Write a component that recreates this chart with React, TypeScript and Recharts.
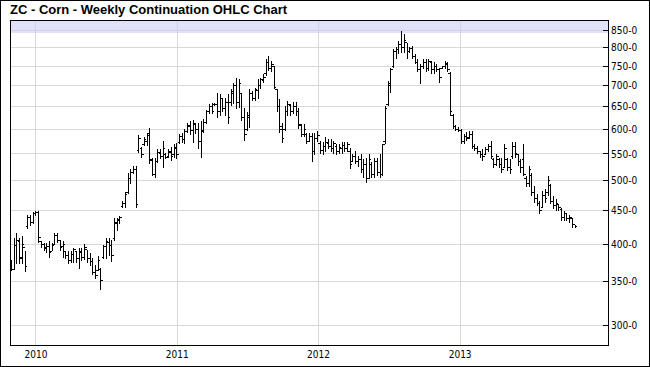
import { ComposedChart, Scatter, ErrorBar, XAxis, YAxis, CartesianGrid, ReferenceArea } from "recharts";

// first weekly bar, one bar per week after it
const firstWeek = "2009-10-30";
const yearTicks = ["2010-01-01", "2011-01-01", "2012-01-01", "2013-01-01"];
const priceTicks = [300, 350, 400, 450, 500, 550, 600, 650, 700, 750, 800, 850];
const axisStart = "2009-10-26";
const axisEnd = "2014-01-18";
const bandFloor = 844;

const opens = [
  372, 366, 398, 404, 382, 395, 425, 440, 432, 445,
  448, 404, 400, 394, 396, 390, 399, 412, 405, 396,
  390, 384, 378, 386, 390, 380, 388, 382, 392, 380,
  376, 362, 364, 366, 382, 396, 402, 398, 408, 430,
  434, 456, 462, 480, 505, 515, 520, 556, 560, 568,
  575, 592, 538, 512, 535, 550, 545, 548, 545, 552,
  548, 560, 572, 585, 578, 595, 606, 598, 610, 600,
  575, 598, 615, 638, 650, 654, 655, 640, 668, 645,
  660, 660, 680, 700, 660, 680, 625, 600, 625, 680,
  670, 688, 700, 712, 730, 760, 745, 750, 690, 650,
  605, 600, 640, 652, 640, 650, 640, 608, 590, 590,
  575, 585, 555, 580, 570, 556, 565, 570, 565, 560,
  565, 555, 560, 566, 560, 555, 535, 545, 535, 540,
  520, 530, 505, 530, 512, 535, 515, 512, 575, 655,
  700, 748, 790, 795, 810, 800, 815, 790, 798, 775,
  760, 740, 748, 760, 745, 760, 740, 750, 740, 745,
  748, 755, 730, 630, 605, 600, 598, 575, 585, 582,
  590, 565, 560, 555, 548, 548, 558, 565, 540, 530,
  540, 530, 525, 540, 525, 545, 565, 548, 535, 540,
  505, 495, 510, 480, 470, 462, 455, 475, 480, 492,
  465, 458, 460, 452, 440, 445, 438, 438, 428,
];

const highs = [
  378, 409, 416, 409, 412, 391, 443, 443, 448, 450,
  450, 405, 402, 401, 404, 401, 416, 416, 406, 405,
  391, 390, 390, 395, 391, 395, 394, 400, 392, 388,
  381, 371, 384, 368, 398, 409, 409, 406, 439, 439,
  442, 466, 480, 514, 521, 527, 527, 588, 564, 584,
  592, 602, 543, 543, 560, 560, 576, 552, 560, 564,
  570, 572, 591, 593, 601, 614, 618, 620, 614, 614,
  618, 623, 643, 657, 659, 659, 682, 680, 671, 671,
  680, 692, 706, 720, 716, 683, 648, 637, 692, 687,
  695, 716, 720, 729, 769, 778, 764, 751, 691, 668,
  614, 652, 664, 656, 660, 660, 648, 611, 611, 592,
  592, 592, 592, 597, 576, 573, 583, 580, 579, 576,
  570, 570, 573, 574, 573, 561, 550, 556, 546, 550,
  540, 543, 550, 534, 543, 543, 550, 570, 652, 712,
  746, 797, 802, 820, 850, 840, 815, 802, 806, 783,
  769, 755, 769, 769, 769, 764, 760, 755, 746, 751,
  764, 760, 734, 633, 609, 604, 601, 590, 594, 596,
  597, 570, 566, 556, 560, 563, 570, 576, 543, 550,
  543, 543, 570, 543, 540, 573, 573, 550, 540, 570,
  509, 527, 514, 491, 477, 466, 483, 486, 509, 494,
  474, 469, 461, 455, 450, 447, 444, 439, 428,
];

const lows = [
  364, 365, 373, 373, 373, 363, 422, 427, 429, 442,
  402, 395, 391, 388, 381, 390, 398, 401, 391, 381,
  380, 373, 374, 374, 374, 366, 377, 378, 374, 370,
  359, 354, 364, 340, 380, 380, 384, 375, 405, 419,
  429, 455, 455, 478, 495, 512, 455, 552, 543, 566,
  566, 531, 509, 506, 533, 541, 524, 541, 543, 537,
  543, 541, 570, 572, 570, 593, 589, 572, 591, 560,
  543, 593, 612, 634, 634, 652, 625, 630, 637, 630,
  611, 652, 657, 645, 648, 618, 576, 597, 602, 664,
  664, 668, 691, 708, 725, 738, 734, 691, 637, 592,
  571, 597, 630, 630, 634, 630, 601, 584, 584, 570,
  573, 534, 548, 573, 550, 548, 553, 559, 553, 550,
  548, 550, 550, 554, 553, 521, 534, 531, 525, 515,
  506, 497, 503, 506, 506, 509, 506, 509, 570, 652,
  683, 746, 769, 783, 787, 787, 769, 787, 769, 755,
  734, 704, 742, 734, 738, 729, 729, 734, 708, 742,
  742, 734, 630, 601, 597, 594, 570, 570, 576, 580,
  560, 556, 550, 543, 537, 548, 554, 540, 524, 527,
  524, 515, 524, 518, 512, 540, 543, 527, 515, 509,
  489, 489, 474, 463, 458, 445, 455, 463, 474, 461,
  453, 450, 449, 434, 434, 434, 431, 424, 424,
];

const closes = [
  366, 398, 405, 380, 400, 370, 440, 432, 445, 448,
  410, 400, 395, 396, 388, 398, 412, 405, 395, 400,
  384, 378, 386, 392, 380, 390, 382, 395, 380, 376,
  362, 358, 378, 352, 396, 403, 398, 384, 432, 436,
  440, 462, 476, 505, 515, 520, 460, 580, 548, 578,
  588, 540, 512, 535, 552, 545, 560, 544, 555, 545,
  562, 548, 585, 578, 595, 608, 598, 612, 600, 575,
  595, 615, 638, 650, 640, 656, 640, 668, 645, 660,
  625, 685, 700, 660, 705, 625, 590, 630, 680, 670,
  690, 700, 715, 720, 760, 745, 755, 695, 650, 600,
  580, 640, 655, 640, 650, 640, 610, 590, 600, 575,
  585, 555, 580, 588, 556, 565, 572, 565, 560, 570,
  555, 562, 566, 560, 568, 530, 545, 535, 540, 520,
  530, 505, 540, 512, 535, 515, 512, 568, 645, 705,
  740, 790, 795, 810, 800, 820, 790, 798, 775, 760,
  740, 748, 760, 745, 762, 740, 750, 740, 720, 748,
  758, 740, 640, 605, 600, 598, 575, 585, 580, 590,
  565, 560, 555, 548, 545, 558, 565, 545, 530, 545,
  530, 520, 560, 525, 520, 565, 550, 535, 525, 512,
  495, 520, 480, 470, 462, 450, 475, 470, 500, 465,
  458, 462, 455, 440, 445, 438, 440, 428, 425,
];

const WEEK = 7 * 24 * 3600 * 1000;
const t0 = Date.parse(firstWeek);

const rows = closes.map((c, i) => ({
  t: t0 + i * WEEK,
  open: opens[i],
  close: c,
  range: [c - lows[i], highs[i] - c],
}));

const xStart = Date.parse(axisStart);
const xEnd = Date.parse(axisEnd);
const xTicks = yearTicks.map((d) => Date.parse(d));

const OpenTick = (p: any) => (
  <line x1={p.cx - 2} x2={p.cx} y1={p.cy} y2={p.cy} stroke="#000" strokeWidth={1} />
);
const CloseTick = (p: any) => (
  <line x1={p.cx} x2={p.cx + 2} y1={p.cy} y2={p.cy} stroke="#000" strokeWidth={1} />
);

const tickFont = { fill: "#000", fontSize: 10, fontFamily: "'DejaVu Sans Condensed', 'DejaVu Sans', sans-serif" };

export default function App() {
  return (
    <div style={{ position: "absolute", left: 0, top: 0, width: 650, height: 367, background: "#fff" }}>
      <div
        style={{
          position: "absolute",
          left: 10,
          top: 3,
          font: "bold 13px 'Liberation Sans', Arial, sans-serif",
          lineHeight: "13px",
          color: "#000",
          whiteSpace: "nowrap",
        }}
      >
        ZC - Corn - Weekly Continuation OHLC Chart
      </div>
      <ComposedChart
        width={650}
        height={367}
        data={rows}
        margin={{ top: 20, right: 0, bottom: 0, left: 10 }}
        style={{ position: "absolute", left: 0, top: 0, shapeRendering: "crispEdges" }}
      >
        <CartesianGrid stroke="#d9d9d9" />
        <ReferenceArea y1={bandFloor} y2={883} fill="#c8c8f4" fillOpacity={0.55} stroke="none" />
        <XAxis
          dataKey="t"
          type="number"
          domain={[xStart, xEnd]}
          allowDataOverflow
          ticks={xTicks}
          interval={0}
          tickFormatter={(v: number) => String(new Date(v).getUTCFullYear())}
          height={22}
          axisLine={{ stroke: "#000" }}
          tickLine={false}
          tickSize={4}
          tickMargin={2}
          tick={tickFont}
        />
        <YAxis
          orientation="right"
          type="number"
          scale="log"
          domain={[280, 883]}
          allowDataOverflow
          ticks={priceTicks}
          interval={0}
          tickFormatter={(v: number) => `${v}-0`}
          width={42}
          axisLine={{ stroke: "#000" }}
          tickLine={{ stroke: "#000" }}
          tickSize={-5}
          tickMargin={8}
          tick={tickFont}
        />
        <Scatter dataKey="close" shape={CloseTick} isAnimationActive={false}>
          <ErrorBar dataKey="range" direction="y" width={0} stroke="#000" strokeWidth={1} isAnimationActive={false} />
        </Scatter>
        <Scatter dataKey="open" shape={OpenTick} isAnimationActive={false} />
        <ReferenceArea x1={xStart} fill="none" stroke="#000" strokeWidth={1} />
      </ComposedChart>
      <div
        style={{
          position: "absolute",
          left: 0,
          top: 0,
          width: 650,
          height: 367,
          boxSizing: "border-box",
          border: "1px solid #000",
          pointerEvents: "none",
        }}
      />
    </div>
  );
}
